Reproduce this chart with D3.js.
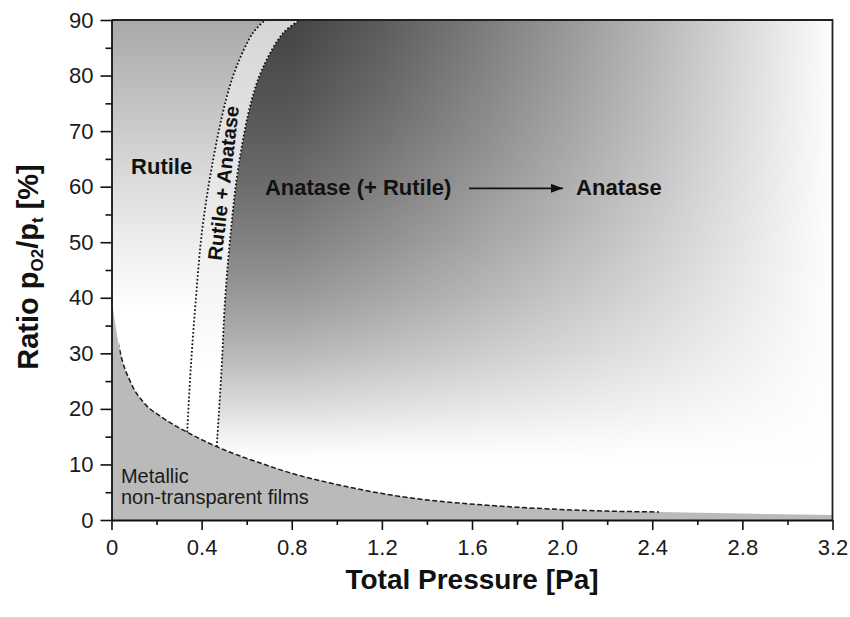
<!DOCTYPE html>
<html>
<head>
<meta charset="utf-8">
<script src="https://cdn.jsdelivr.net/npm/d3@7"></script>
<style>
  body { margin: 0; background: #fff; }
  svg { display: block; font-family: "Liberation Sans", Arial, Helvetica, sans-serif; }
</style>
</head>
<body>
<svg id="chart" width="850" height="617"></svg>
<script>
// Lower limit for transparent films: O2 ratio [%] vs. total pressure [Pa]
const edgePressure = [0, 0.035, 0.087, 0.146, 0.22, 0.336, 0.467, 0.664, 0.80, 1.0, 1.196, 1.40, 1.59, 1.80, 1.99, 2.20, 2.43, 2.80, 3.20];
const edgeRatio    = [40, 30.9, 24.6, 21.0, 18.6, 15.8, 13.2, 10.2, 8.4, 6.4, 4.8, 3.6, 2.9, 2.3, 1.9, 1.6, 1.44, 1.15, 0.9];
const edgeDashFrom = 0.035;
const edgeDashTo = 2.43;

// Rutile | Rutile + Anatase boundary
const leftPressure = [0.336, 0.352, 0.374, 0.401, 0.445, 0.508, 0.555, 0.628, 0.682];
const leftRatio    = [15.8, 27.5, 39.6, 51.7, 63.5, 75.6, 81.6, 87.7, 90];
// Rutile + Anatase | Anatase boundary
const rightPressure = [0.467, 0.489, 0.504, 0.529, 0.563, 0.622, 0.674, 0.763, 0.837];
const rightRatio    = [13.2, 27.5, 39.6, 51.7, 63.5, 75.6, 81.6, 87.7, 90];

// Axes
const xTicks = [0, 0.4, 0.8, 1.2, 1.6, 2.0, 2.4, 2.8, 3.2];
const xTickLabels = ["0", "0.4", "0.8", "1.2", "1.6", "2.0", "2.4", "2.8", "3.2"];
const xMinorTicks = [0.2, 0.6, 1.0, 1.4, 1.8, 2.2, 2.6, 3.0];
const yTicks = [0, 10, 20, 30, 40, 50, 60, 70, 80, 90];
const yTickLabels = ["0", "10", "20", "30", "40", "50", "60", "70", "80", "90"];
const yMinorTicks = [5, 15, 25, 35, 45, 55, 65, 75, 85];

const svg = d3.select("#chart");
const x = d3.scaleLinear().domain([0, 3.2]).range([111.5, 832.5]);
const y = d3.scaleLinear().domain([0, 90]).range([520, 20]);

const edgePts = edgePressure.map((p, i) => [p, edgeRatio[i]]);
const leftPts = leftPressure.map((p, i) => [p, leftRatio[i]]);
const rightPts = rightPressure.map((p, i) => [p, rightRatio[i]]);

const defs = svg.append("defs");
defs.append("clipPath").attr("id", "plotClip")
  .append("rect").attr("x", x(0)).attr("y", y(90))
  .attr("width", x(3.2) - x(0)).attr("height", y(0) - y(90));
defs.append("clipPath").attr("id", "dashClip")
  .append("rect").attr("x", x(edgeDashFrom)).attr("y", y(90))
  .attr("width", x(edgeDashTo) - x(edgeDashFrom)).attr("height", y(0) - y(90));

function linGrad(id, x1, y1, x2, y2, stops) {
  const g = defs.append("linearGradient").attr("id", id)
    .attr("gradientUnits", "userSpaceOnUse")
    .attr("x1", x1).attr("y1", y1).attr("x2", x2).attr("y2", y2);
  stops.forEach(s => g.append("stop").attr("offset", s[0])
    .attr("stop-color", s[1]).attr("stop-opacity", s[2] === undefined ? 1 : s[2]));
}
// Anatase shading: dark on the low-pressure side, fading out towards 3.2 Pa
linGrad("anaH", x(0.8), 0, x(3.2), 0, [
  [0, "#444444"], [0.167, "#5c5c5c"], [0.333, "#787878"], [0.5, "#969696"],
  [0.667, "#b6b6b6"], [0.833, "#d9d9d9"], [1, "#fdfdfd"]
]);
// ... and fading to white towards low O2 ratio (ratio 90 % -> 11 %)
const fadeRatio   = [90, 80, 70, 60, 50, 40, 30, 20, 15, 11];
const fadeOpacity = [0, 0.06, 0.13, 0.22, 0.33, 0.46, 0.62, 0.82, 0.93, 1];
linGrad("anaV", 0, y(90), 0, y(11),
  fadeRatio.map((r, i) => [(90 - r) / 79, "#fff", fadeOpacity[i]]));
linGrad("rutV", 0, y(90), 0, y(38), [
  [0, "#a9a9a9"], [0.3, "#c4c4c4"], [0.55, "#dbdbdb"], [0.8, "#f0f0f0"], [1, "#ffffff"]
]);
linGrad("bandV", 0, y(90), 0, y(28), [
  [0, "#d6d6d6"], [0.5, "#e8e8e8"], [0.8, "#f6f6f6"], [1, "#ffffff"]
]);

const bLine = d3.line().x(d => x(d[0])).y(d => y(d[1])).curve(d3.curveCatmullRom.alpha(0.5));
const seg = pts => bLine(pts).replace(/^M/, "L");
const pt = (p, r) => `${x(p)},${y(r)}`;

const plot = svg.append("g").attr("clip-path", "url(#plotClip)");

// Anatase region
const anatasePath = `M${pt(rightPressure[0], 0)}${seg(rightPts)}L${pt(3.2, 90)}L${pt(3.2, 0)}Z`;
plot.append("path").attr("d", anatasePath).attr("fill", "url(#anaH)");
plot.append("path").attr("d", anatasePath).attr("fill", "url(#anaV)");

// Rutile + Anatase band
plot.append("path")
  .attr("d", `M${pt(leftPressure[0], 0)}${seg(leftPts)}${seg(rightPts.slice().reverse())}L${pt(rightPressure[0], 0)}Z`)
  .attr("fill", "url(#bandV)");

// Rutile region
plot.append("path")
  .attr("d", `M${pt(0, 0)}L${pt(0, 90)}${seg(leftPts.slice().reverse())}L${pt(leftPressure[0], 0)}Z`)
  .attr("fill", "url(#rutV)");

// Metallic, non-transparent films
const edgeArea = d3.area().x(d => x(d[0])).y0(y(0)).y1(d => y(d[1])).curve(d3.curveMonotoneX);
plot.append("path").datum(edgePts).attr("d", edgeArea).attr("fill", "#bababa");

const edgeLine = d3.line().x(d => x(d[0])).y(d => y(d[1])).curve(d3.curveMonotoneX);
plot.append("g").attr("clip-path", "url(#dashClip)")
  .append("path").datum(edgePts).attr("d", edgeLine)
  .attr("fill", "none").attr("stroke", "#1a1a1a").attr("stroke-width", 1.5)
  .attr("stroke-dasharray", "5,2.5");

// Phase boundaries (dotted)
[leftPts, rightPts].forEach(pts => {
  plot.append("path").attr("d", bLine(pts))
    .attr("fill", "none").attr("stroke", "#111").attr("stroke-width", 1.8)
    .attr("stroke-dasharray", "1.7,2.1");
});

// Frame
svg.append("path")
  .attr("d", `M${pt(0, 90)}L${pt(3.2, 90)}L${pt(3.2, 0)}`)
  .attr("fill", "none").attr("stroke", "#222").attr("stroke-width", 1.8);

// Axes
const tickFont = 22;
svg.append("g").attr("transform", `translate(0,${y(0)})`)
  .call(d3.axisBottom(x).tickValues(xTicks).tickFormat((d, i) => xTickLabels[i])
    .tickSize(10).tickSizeOuter(0).tickPadding(9));
svg.append("g").attr("transform", `translate(0,${y(0)})`)
  .call(d3.axisBottom(x).tickValues(xMinorTicks).tickFormat("").tickSize(5).tickSizeOuter(0))
  .select(".domain").remove();
svg.append("g").attr("transform", `translate(${x(0)},0)`)
  .call(d3.axisLeft(y).tickValues(yTicks).tickFormat((d, i) => yTickLabels[i])
    .tickSize(11).tickSizeOuter(0).tickPadding(7));
svg.append("g").attr("transform", `translate(${x(0)},0)`)
  .call(d3.axisLeft(y).tickValues(yMinorTicks).tickFormat("").tickSize(6).tickSizeOuter(0))
  .select(".domain").remove();
svg.selectAll(".domain").attr("stroke", "#111").attr("stroke-width", 1.8);
svg.selectAll(".tick line").attr("stroke", "#111").attr("stroke-width", 1.6);
svg.selectAll(".tick text").attr("font-size", tickFont).attr("fill", "#1a1a1a")
  .attr("font-family", "'Liberation Sans', Arial, sans-serif");

// Axis titles
svg.append("text").attr("x", (x(0) + x(3.2)) / 2).attr("y", 589)
  .attr("text-anchor", "middle").attr("font-size", 28).attr("font-weight", "bold")
  .attr("fill", "#111").text("Total Pressure [Pa]");

const yt = svg.append("text").attr("transform", `translate(38,${(y(0) + y(90)) / 2 - 3}) rotate(-90)`)
  .attr("text-anchor", "middle").attr("font-size", 29).attr("font-weight", "bold").attr("fill", "#111");
yt.append("tspan").text("Ratio p");
yt.append("tspan").attr("font-size", 17).attr("dy", 5).text("O2");
yt.append("tspan").attr("dy", -5).text("/p");
yt.append("tspan").attr("font-size", 17).attr("dy", 5).text("t");
yt.append("tspan").attr("dy", -5).text(" [%]");

// Region labels
const lab = svg.append("g").attr("fill", "#111");
lab.append("text").attr("x", x(0.087)).attr("y", y(62.3))
  .attr("font-size", 22).attr("font-weight", "bold").text("Rutile");
lab.append("text").attr("x", x(0.681)).attr("y", y(58.5))
  .attr("font-size", 22).attr("font-weight", "bold").text("Anatase (+ Rutile)");
lab.append("text").attr("x", x(2.062)).attr("y", y(58.5))
  .attr("font-size", 22).attr("font-weight", "bold").text("Anatase");
lab.append("text")
  .attr("transform", `translate(${x(0.527)},${y(60.5)}) rotate(-83.5)`)
  .attr("text-anchor", "middle").attr("font-size", 20).attr("font-weight", "bold")
  .text("Rutile + Anatase");
lab.append("text").attr("x", x(0.042)).attr("y", y(6.66))
  .attr("font-size", 20).attr("fill", "#1a1a1a").text("Metallic");
lab.append("text").attr("x", x(0.042)).attr("y", y(2.88))
  .attr("font-size", 20).attr("fill", "#1a1a1a").text("non-transparent films");

// Arrow between the two Anatase labels
defs.append("marker").attr("id", "arrowHead")
  .attr("markerUnits", "userSpaceOnUse").attr("markerWidth", 13).attr("markerHeight", 10)
  .attr("refX", 12).attr("refY", 4.5).attr("orient", "auto")
  .append("path").attr("d", "M0,0L12,4.5L0,9Z").attr("fill", "#111");
svg.append("line")
  .attr("x1", x(1.587)).attr("y1", y(59.7)).attr("x2", x(2.004)).attr("y2", y(59.7))
  .attr("stroke", "#111").attr("stroke-width", 1.8).attr("marker-end", "url(#arrowHead)");
</script>
</body>
</html>
